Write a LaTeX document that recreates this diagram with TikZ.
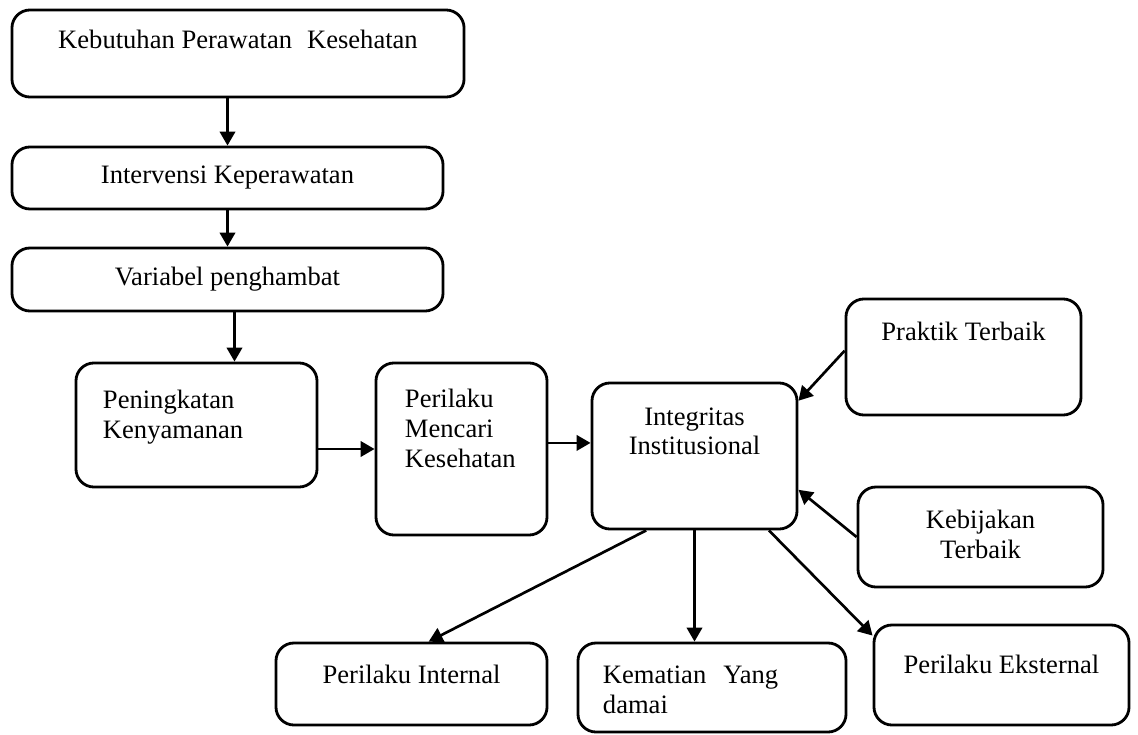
\documentclass[tikz,border=0pt]{standalone}
\usepackage{fontspec}
\setmainfont{Liberation Serif}
\usetikzlibrary{arrows.meta}
\tikzstyle{box} = [rectangle, rounded corners=0.45cm, draw=black, line width=2pt, fill=white, font=\fontsize{18.9}{21.3}\selectfont]
\tikzstyle{arrow} = [line width=1.9pt,-{Triangle[length=10pt,width=11pt]}]
\begin{document}
\begin{tikzpicture}[x=0.025cm, y=-0.025cm]
\useasboundingbox (0,0) rectangle (1138,735);
\node (kebutuhan) [box, minimum width=11.3cm, minimum height=2.175cm, text depth=0.73cm] at (238,53.5) {Kebutuhan Perawatan\hspace{0.56em}Kesehatan};
\node (intervensi) [box, minimum width=10.775cm, minimum height=1.55cm] at (227.5,178) {Intervensi Keperawatan};
\node (variabel) [box, minimum width=10.775cm, minimum height=1.575cm] at (227.5,279.5) {Variabel penghambat};
\node (kenyaman) [box, minimum width=6.025cm, minimum height=3.1cm, align=left, inner xsep=0.675cm, text width=4.675cm, text depth=1.305cm] at (196.5,425) {Peningkatan\\Kenyamanan};
\node (mencari) [box, minimum width=4.275cm, minimum height=4.3cm, align=left, inner xsep=0.725cm, text width=2.825cm, text depth=2.555cm] at (461.5,449) {Perilaku\\Mencari\\Kesehatan};
\node (integ) [box, minimum width=5.125cm, minimum height=3.65cm, align=center, text depth=1.24cm] at (694.5,456) {Integritas\\Institusional};
\node (praktik) [box, minimum width=5.875cm, minimum height=2.9cm, text depth=1.305cm] at (963.5,357) {Praktik Terbaik};
\node (kebijakan) [box, minimum width=6.125cm, minimum height=2.5cm, align=center, text depth=0.155cm] at (980.5,537) {Kebijakan\\Terbaik};
\node (internal) [box, minimum width=6.775cm, minimum height=2.05cm, text depth=0.505cm] at (411.5,684) {Perilaku Internal};
\node (kematian) [box, minimum width=6.7cm, minimum height=2.225cm, align=left, inner xsep=0.625cm, text width=5.45cm, text depth=0.63cm] at (712,687.5) {Kematian\hspace{0.64em}Yang\\damai};
\node (ekst) [box, minimum width=6.375cm, minimum height=2.5cm, text depth=0.555cm] at (1001.5,675) {Perilaku Eksternal};
\draw [arrow] (intervensi.north |- kebutuhan.south) -- (intervensi.north);
\draw [arrow] (intervensi.south) -- (variabel.north);
\draw [arrow] (variabel.-78) -- (variabel.-78 |- kenyaman.north);
\draw [arrow] (kenyaman.east |- mencari.west) -- (mencari.west);
\draw [arrow] (mencari.4) -- (mencari.4 -| integ.west);
\draw [arrow] (praktik.177) -- (integ.28);
\draw [arrow] (kebijakan.west) -- (integ.-18);
\draw [arrow] (integ.237) -- (internal.68);
\draw [arrow] (integ.south) -- (integ.south |- kematian.north);
\draw [arrow] (integ.-45) -- (ekst.163);
\end{tikzpicture}
\end{document}
